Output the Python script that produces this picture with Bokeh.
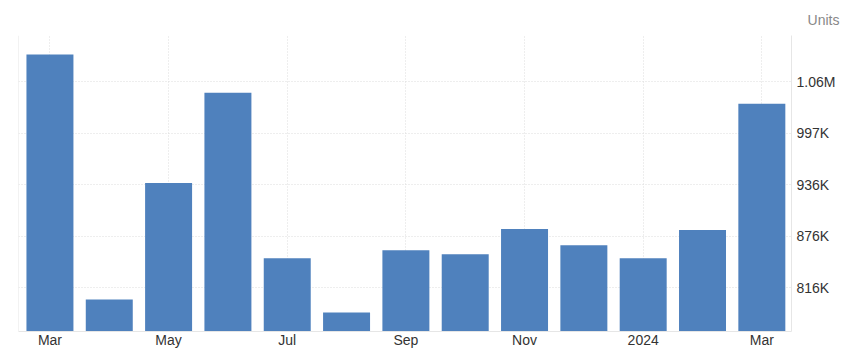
from bokeh.plotting import figure
from bokeh.models import Range1d, FixedTicker, Span, Title
from bokeh.embed import file_html
from bokeh.resources import INLINE

months = ["Mar 2023", "Apr 2023", "May 2023", "Jun 2023", "Jul 2023", "Aug 2023",
          "Sep 2023", "Oct 2023", "Nov 2023", "Dec 2023", "Jan 2024", "Feb 2024", "Mar 2024"]
values = [1089300, 801900, 938500, 1044500, 850200, 786600,
          859600, 854900, 884400, 865500, 850200, 883200, 1031600]
x_tick_pos = [0, 2, 4, 6, 8, 10, 12]
x_tick_labels = ["Mar", "May", "Jul", "Sep", "Nov", "2024", "Mar"]
y_ticks = [815700, 876050, 936400, 996750, 1057100]
y_tick_labels = ["816K", "876K", "936K", "997K", "1.06M"]

idx = list(range(len(months)))
y_start, y_end = 764200, 1111600

p = figure(width=846, height=354, output_backend="svg", toolbar_location=None,
           x_range=Range1d(-0.53, 12.5), y_range=Range1d(y_start, y_end),
           x_axis_location="below", y_axis_location="right",
           min_border_left=18, min_border_right=55, min_border_top=35, min_border_bottom=23)
p.outline_line_color = None
p.background_fill_color = "white"
p.border_fill_color = "white"

p.vbar(x=idx, top=values, bottom=y_start, width=0.792, fill_color="#4f81bd", line_color=None)

font = "Liberation Sans"
xa = p.xaxis[0]
xa.ticker = FixedTicker(ticks=x_tick_pos)
xa.major_label_overrides = {t: l for t, l in zip(x_tick_pos, x_tick_labels)}
ya = p.yaxis[0]
ya.ticker = FixedTicker(ticks=y_ticks)
ya.major_label_overrides = {t: l for t, l in zip(y_ticks, y_tick_labels)}
for ax in (xa, ya):
    ax.axis_line_color = "#e6e6e6"
    ax.axis_line_width = 1
    ax.major_tick_line_color = None
    ax.minor_tick_line_color = None
    ax.major_tick_out = 0
    ax.major_tick_in = 0
    ax.minor_tick_out = 0
    ax.major_label_text_font = font
    ax.major_label_text_font_size = "14px"
    ax.major_label_text_color = "#333333"
xa.major_label_standoff = 0
ya.major_label_standoff = 5

p.xgrid.ticker = FixedTicker(ticks=x_tick_pos)
p.ygrid.ticker = FixedTicker(ticks=y_ticks + [y_end])
for g in (p.xgrid, p.ygrid):
    g.grid_line_color = "#dddddd"
    g.grid_line_dash = "1 2"
    g.grid_line_width = 1

p.add_layout(Span(location=-0.53, dimension="height", line_color="#e6e6e6", line_width=1))

t = Title(text="Units", align="right", text_font=font, text_font_size="14px",
          text_color="#888888", text_font_style="normal", offset=-48, standoff=15)
p.add_layout(t, "above")

open("out.html", "w").write(file_html(p, INLINE))
